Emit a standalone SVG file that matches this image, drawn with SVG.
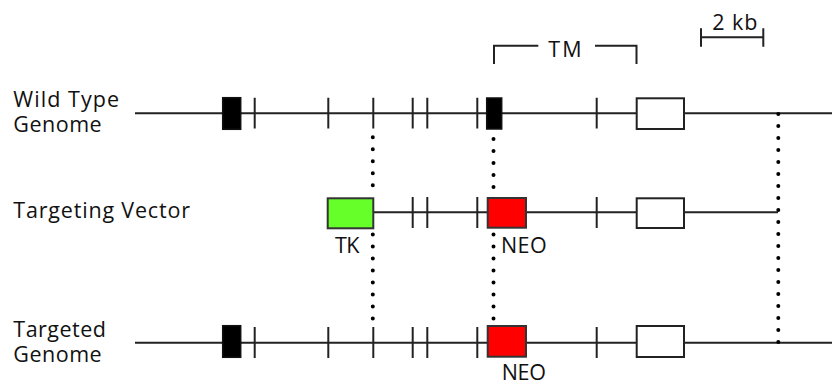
<svg xmlns="http://www.w3.org/2000/svg" width="832" height="383" viewBox="0 0 832 383">
<style>
.lbl{font-family:"Open Sans","Noto Sans","Liberation Sans",sans-serif;font-size:21.5px;fill:#111}
.ln{stroke:#222;stroke-width:2;fill:none}
.tick{stroke:#222;stroke-width:2}
.exon{fill:#000;stroke:#111;stroke-width:1.5}
.wbox{fill:#fff;stroke:#222;stroke-width:2}
.neo{fill:#ff0000;stroke:#333;stroke-width:2}
.tk{fill:#66ff2a;stroke:#333;stroke-width:2}
.dots{stroke:#000;stroke-width:4;stroke-linecap:round;stroke-dasharray:0 12;fill:none}
</style>
<rect width="832" height="383" fill="#fff"/>

<g id="scale-bar">
  <path class="ln" d="M701 37.3H763.3M701 28.3V46.7M763.3 28.3V46.7" stroke-width="2.5"/>
  <text class="lbl" x="712.3" y="30" textLength="45">2 kb</text>
</g>

<g id="tm-bracket">
  <path class="ln" d="M494 64V45.7H538.3M595 45.7H636.5V64" stroke-width="2.5"/>
  <text class="lbl" x="548.3" y="57.3" textLength="33.4">TM</text>
</g>

<g id="wild-type-label">
  <text class="lbl" x="13.3" y="106.7" textLength="105.7">Wild Type</text>
  <text class="lbl" x="13.3" y="131.5" textLength="88.4">Genome</text>
</g>

<g id="wild-type-genome">
  <path class="ln" d="M135 113.3H832"/>
  <path class="tick" d="M254.7 97.7V128.5M328.3 97.7V128.5M373.3 97.7V128.5M412.7 97.7V128.5M427.3 97.7V128.5M477.3 97.7V128.5M596.7 97.7V128.5"/>
  <rect class="exon" x="222.7" y="97.7" width="18" height="31.6"/>
  <rect class="exon" x="486.7" y="98" width="15" height="31"/>
  <rect class="wbox" x="636.7" y="98.3" width="47.3" height="30.7"/>
</g>

<g id="targeting-vector-label">
  <text class="lbl" x="13.3" y="218.3" textLength="176.7">Targeting Vector</text>
</g>

<g id="targeting-vector">
  <path class="ln" d="M373.3 212.3H778"/>
  <path class="tick" d="M412.7 197V228M427.3 197V228M477.3 197V228M596.7 197V228"/>
  <rect class="tk" x="327.7" y="198.3" width="45.6" height="30"/>
  <rect class="neo" x="487.7" y="198" width="38.3" height="29.7"/>
  <rect class="wbox" x="636.7" y="198.3" width="47.3" height="29.7"/>
  <text class="lbl" x="335" y="253.3" textLength="24.3">TK</text>
  <text class="lbl" x="501" y="253.3" textLength="45.7">NEO</text>
</g>

<g id="targeted-genome-label">
  <text class="lbl" x="13.3" y="336.7" textLength="92.7">Targeted</text>
  <text class="lbl" x="13.3" y="361.7" textLength="88.4">Genome</text>
</g>

<g id="targeted-genome">
  <path class="ln" d="M135 342.7H832"/>
  <path class="tick" d="M254.7 327V358M328.3 327V358M373.3 327V358M412.7 327V358M427.3 327V358M477.3 327V358M596.7 327V358"/>
  <rect class="exon" x="222.7" y="325.7" width="18" height="31.6"/>
  <rect class="neo" x="487.7" y="326" width="38.3" height="30.7"/>
  <rect class="wbox" x="636.7" y="326" width="47.3" height="31"/>
  <text class="lbl" x="501.7" y="379.5" textLength="44.3">NEO</text>
</g>

<g id="connectors">
  <path class="dots" d="M372.8 137.3V186"/>
  <path class="dots" d="M372.8 234.5V319"/>
  <path class="dots" d="M493.5 139V187.5"/>
  <path class="dots" d="M493.5 234.5V319"/>
  <path class="dots" d="M778.3 114V342.5"/>
</g>
</svg>
